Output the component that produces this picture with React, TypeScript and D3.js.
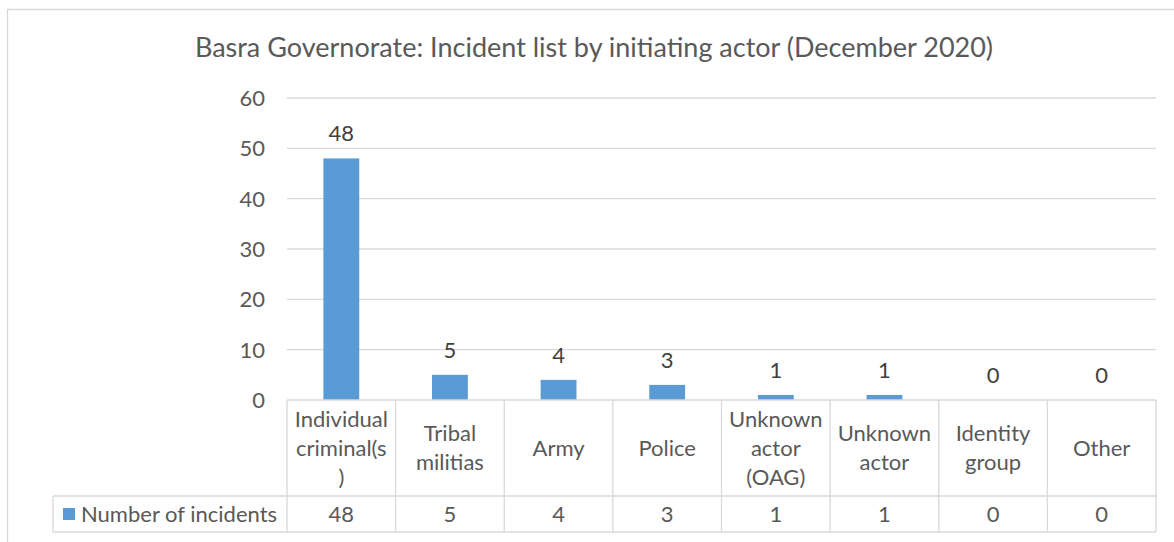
import { useMemo } from "react";
import * as d3 from "d3";

// chart data
const categories = [
  "Individual criminal(s)",
  "Tribal militias",
  "Army",
  "Police",
  "Unknown actor (OAG)",
  "Unknown actor",
  "Identity group",
  "Other",
];
// how Excel wrapped the labels inside the data table
const categoryLines = [
  ["Individual", "criminal(s", ")"],
  ["Tribal", "militias"],
  ["Army"],
  ["Police"],
  ["Unknown", "actor", "(OAG)"],
  ["Unknown", "actor"],
  ["Identity", "group"],
  ["Other"],
];
const incidents = [48, 5, 4, 3, 1, 1, 0, 0];
const yTicks = [0, 10, 20, 30, 40, 50, 60];
const seriesName = "Number of incidents";
const title = "Basra Governorate: Incident list by initiating actor (December 2020)";

const W = 1174;
const H = 542;
const FONT = "Lato, 'Open Sans', sans-serif";
const GRID = "#d9d9d9";
const TEXT = "#595959";
const BAR = "#5b9bd5";
const FS = 22;

const App = () => {
  const plot = { left: 287, right: 1156, top: 98, bottom: 400 };
  const table = { headerBottom: 496, bottom: 532, legendLeft: 53 };

  const x = useMemo(
    () =>
      d3
        .scaleBand<string>()
        .domain(categories)
        .range([plot.left, plot.right])
        .paddingInner(0.67)
        .paddingOuter(0.335),
    []
  );
  const cells = useMemo(
    () => d3.scaleBand<string>().domain(categories).range([plot.left, plot.right]),
    []
  );
  const y = useMemo(
    () => d3.scaleLinear().domain([0, 60]).range([plot.bottom, plot.top]),
    []
  );

  const headerMid = (plot.bottom + table.headerBottom) / 2;
  const valueMid = (table.headerBottom + table.bottom) / 2;
  const lineH = 29;

  return (
    <svg
      width={W}
      height={H}
      style={{ position: "absolute", left: 0, top: 0, background: "#fff" }}
      fontFamily={FONT}
    >
      {/* chart frame */}
      <path d={`M7.5,${H} V9.5 H${W}`} fill="none" stroke={GRID} strokeWidth={1.3} />

      <text x={594} y={57} textAnchor="middle" fontSize={27} fill={TEXT}>
        {title}
      </text>

      {/* gridlines + y labels */}
      {yTicks.map((t) => (
        <g key={t}>
          {t > 0 && (
            <line
              x1={plot.left}
              x2={plot.right}
              y1={y(t)}
              y2={y(t)}
              stroke={GRID}
              strokeWidth={1.3}
            />
          )}
          <text
            x={265}
            y={y(t)}
            dy="0.36em"
            textAnchor="end"
            fontSize={FS}
            fill={TEXT}
          >
            {t}
          </text>
        </g>
      ))}

      {/* bars */}
      {categories.map((c, i) => (
        <rect
          key={c}
          x={x(c)}
          y={y(incidents[i])}
          width={x.bandwidth()}
          height={y(0) - y(incidents[i])}
          fill={BAR}
        />
      ))}

      {/* value labels */}
      {categories.map((c, i) => (
        <text
          key={c}
          x={x(c)! + x.bandwidth() / 2}
          y={y(incidents[i]) - 17}
          textAnchor="middle"
          fontSize={FS}
          fill="#404040"
        >
          {incidents[i]}
        </text>
      ))}

      {/* data table */}
      <g stroke={GRID} strokeWidth={1.3} fill="none">
        <line x1={plot.left} x2={plot.right} y1={plot.bottom} y2={plot.bottom} />
        <line
          x1={table.legendLeft}
          x2={plot.right}
          y1={table.headerBottom}
          y2={table.headerBottom}
        />
        <line
          x1={table.legendLeft}
          x2={plot.right}
          y1={table.bottom}
          y2={table.bottom}
        />
        <line
          x1={table.legendLeft}
          x2={table.legendLeft}
          y1={table.headerBottom}
          y2={table.bottom}
        />
        {categories.map((c) => (
          <line
            key={c}
            x1={cells(c)}
            x2={cells(c)}
            y1={plot.bottom}
            y2={table.bottom}
          />
        ))}
        <line x1={plot.right} x2={plot.right} y1={plot.bottom} y2={table.bottom} />
      </g>

      {categories.map((c, i) => {
        const lines = categoryLines[i];
        const cx = cells(c)! + cells.bandwidth() / 2;
        const y0 = headerMid - ((lines.length - 1) * lineH) / 2;
        return (
          <g key={c}>
            {lines.map((l, j) => (
              <text
                key={j}
                x={cx}
                y={y0 + j * lineH}
                dy="0.36em"
                textAnchor="middle"
                fontSize={FS}
                fill={TEXT}
              >
                {l}
              </text>
            ))}
            <text
              x={cx}
              y={valueMid}
              dy="0.36em"
              textAnchor="middle"
              fontSize={FS}
              fill={TEXT}
            >
              {incidents[i]}
            </text>
          </g>
        );
      })}

      {/* legend key in the table */}
      <rect x={63} y={valueMid - 6} width={12} height={12} fill={BAR} />
      <text x={81} y={valueMid} dy="0.36em" fontSize={FS} fill={TEXT}>
        {seriesName}
      </text>
    </svg>
  );
};

export default App;
